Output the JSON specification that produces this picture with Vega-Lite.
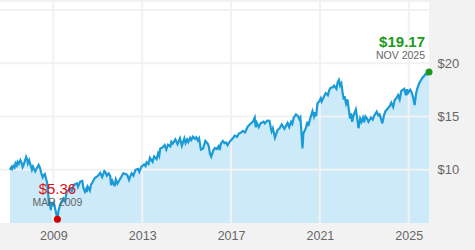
{
  "$schema": "https://vega.github.io/schema/vega-lite/v6.json",
  "width": 429,
  "height": 221,
  "autosize": {"type": "none"},
  "padding": {"left": 0, "top": 2, "right": 46, "bottom": 27},
  "background": "#f2f2f2",
  "config": {
    "view": {"fill": "white", "stroke": null},
    "font": "Liberation Sans",
    "axis": {"labelFont": "Liberation Sans", "labelColor": "#666666", "labelFontSize": 12}
  },
  "datasets": {
    "prices": [
      {"date": "2007-01-20", "value": 9.98},
      {"date": "2007-02-10", "value": 10.25},
      {"date": "2007-02-25", "value": 10.1},
      {"date": "2007-03-15", "value": 10.35},
      {"date": "2007-04-05", "value": 10.2},
      {"date": "2007-04-20", "value": 10.6},
      {"date": "2007-05-10", "value": 10.4},
      {"date": "2007-05-25", "value": 10.75},
      {"date": "2007-06-15", "value": 10.55},
      {"date": "2007-07-10", "value": 10.9},
      {"date": "2007-08-01", "value": 10.6},
      {"date": "2007-08-15", "value": 10.25},
      {"date": "2007-09-01", "value": 10.45},
      {"date": "2007-09-25", "value": 10.9},
      {"date": "2007-10-12", "value": 11.2},
      {"date": "2007-10-28", "value": 10.95},
      {"date": "2007-11-10", "value": 10.6},
      {"date": "2007-12-01", "value": 10.9},
      {"date": "2007-12-20", "value": 10.5},
      {"date": "2008-01-15", "value": 10.0},
      {"date": "2008-02-01", "value": 10.3},
      {"date": "2008-02-20", "value": 10.05},
      {"date": "2008-03-10", "value": 9.85},
      {"date": "2008-04-10", "value": 10.2},
      {"date": "2008-05-05", "value": 10.45},
      {"date": "2008-05-25", "value": 10.2},
      {"date": "2008-06-18", "value": 9.67},
      {"date": "2008-07-10", "value": 9.3},
      {"date": "2008-07-25", "value": 9.5},
      {"date": "2008-08-15", "value": 9.6},
      {"date": "2008-09-01", "value": 9.2},
      {"date": "2008-09-20", "value": 8.8},
      {"date": "2008-10-05", "value": 7.94},
      {"date": "2008-10-25", "value": 6.6},
      {"date": "2008-11-05", "value": 7.0},
      {"date": "2008-11-20", "value": 6.2},
      {"date": "2008-12-05", "value": 6.8},
      {"date": "2008-12-25", "value": 6.7},
      {"date": "2009-01-10", "value": 6.9},
      {"date": "2009-02-05", "value": 6.2},
      {"date": "2009-02-25", "value": 5.7},
      {"date": "2009-03-09", "value": 5.36},
      {"date": "2009-03-25", "value": 6.1},
      {"date": "2009-04-22", "value": 6.7},
      {"date": "2009-05-15", "value": 7.0},
      {"date": "2009-06-15", "value": 7.3},
      {"date": "2009-07-10", "value": 7.05},
      {"date": "2009-08-10", "value": 7.94},
      {"date": "2009-09-10", "value": 8.1},
      {"date": "2009-10-05", "value": 8.26},
      {"date": "2009-11-01", "value": 8.0},
      {"date": "2009-12-01", "value": 8.57},
      {"date": "2010-01-22", "value": 8.73},
      {"date": "2010-02-10", "value": 8.4},
      {"date": "2010-03-18", "value": 8.88},
      {"date": "2010-04-23", "value": 8.95},
      {"date": "2010-05-10", "value": 8.3},
      {"date": "2010-06-05", "value": 7.94},
      {"date": "2010-06-25", "value": 8.2},
      {"date": "2010-07-05", "value": 7.9},
      {"date": "2010-07-22", "value": 8.4},
      {"date": "2010-08-25", "value": 8.05},
      {"date": "2010-09-12", "value": 8.6},
      {"date": "2010-10-15", "value": 8.9},
      {"date": "2010-11-15", "value": 9.25},
      {"date": "2010-12-20", "value": 9.35},
      {"date": "2011-01-15", "value": 9.5},
      {"date": "2011-02-10", "value": 9.7},
      {"date": "2011-03-15", "value": 9.3},
      {"date": "2011-04-20", "value": 9.88},
      {"date": "2011-05-10", "value": 9.75},
      {"date": "2011-05-30", "value": 9.45},
      {"date": "2011-07-01", "value": 9.65},
      {"date": "2011-07-25", "value": 9.4},
      {"date": "2011-08-10", "value": 8.55},
      {"date": "2011-08-30", "value": 8.95},
      {"date": "2011-09-20", "value": 8.7},
      {"date": "2011-10-05", "value": 8.45},
      {"date": "2011-10-25", "value": 9.1},
      {"date": "2011-11-20", "value": 8.7},
      {"date": "2011-12-15", "value": 8.95},
      {"date": "2012-01-20", "value": 9.3},
      {"date": "2012-02-25", "value": 9.67},
      {"date": "2012-04-05", "value": 9.6},
      {"date": "2012-05-01", "value": 9.5},
      {"date": "2012-05-30", "value": 9.05},
      {"date": "2012-06-20", "value": 9.4},
      {"date": "2012-07-12", "value": 9.67},
      {"date": "2012-08-10", "value": 9.45},
      {"date": "2012-09-12", "value": 9.98},
      {"date": "2012-10-26", "value": 10.07},
      {"date": "2012-11-15", "value": 9.8},
      {"date": "2012-12-20", "value": 10.3},
      {"date": "2013-02-01", "value": 10.5},
      {"date": "2013-02-25", "value": 10.35},
      {"date": "2013-03-15", "value": 10.7},
      {"date": "2013-04-15", "value": 10.55},
      {"date": "2013-05-08", "value": 11.13},
      {"date": "2013-06-20", "value": 10.75},
      {"date": "2013-07-15", "value": 11.25},
      {"date": "2013-08-25", "value": 11.0},
      {"date": "2013-09-20", "value": 11.54},
      {"date": "2013-10-08", "value": 11.3},
      {"date": "2013-10-25", "value": 12.0},
      {"date": "2013-12-01", "value": 12.1},
      {"date": "2014-01-05", "value": 12.32},
      {"date": "2014-02-01", "value": 11.9},
      {"date": "2014-03-01", "value": 12.35},
      {"date": "2014-04-10", "value": 12.2},
      {"date": "2014-04-25", "value": 12.63},
      {"date": "2014-05-20", "value": 12.45},
      {"date": "2014-07-01", "value": 12.85},
      {"date": "2014-08-05", "value": 12.4},
      {"date": "2014-09-15", "value": 12.95},
      {"date": "2014-10-15", "value": 12.25},
      {"date": "2014-11-25", "value": 12.95},
      {"date": "2014-12-15", "value": 12.5},
      {"date": "2015-01-10", "value": 12.85},
      {"date": "2015-01-30", "value": 12.6},
      {"date": "2015-03-01", "value": 13.0},
      {"date": "2015-03-20", "value": 12.8},
      {"date": "2015-04-15", "value": 13.1},
      {"date": "2015-05-20", "value": 12.9},
      {"date": "2015-06-10", "value": 13.05},
      {"date": "2015-07-05", "value": 12.75},
      {"date": "2015-07-25", "value": 12.95},
      {"date": "2015-08-25", "value": 11.9},
      {"date": "2015-09-30", "value": 12.0},
      {"date": "2015-11-05", "value": 12.7},
      {"date": "2015-12-15", "value": 12.45},
      {"date": "2016-01-01", "value": 12.2},
      {"date": "2016-01-20", "value": 11.5},
      {"date": "2016-02-10", "value": 11.22},
      {"date": "2016-03-15", "value": 11.8},
      {"date": "2016-04-10", "value": 12.05},
      {"date": "2016-05-10", "value": 11.95},
      {"date": "2016-06-10", "value": 12.2},
      {"date": "2016-06-28", "value": 11.85},
      {"date": "2016-07-20", "value": 12.48},
      {"date": "2016-08-20", "value": 12.7},
      {"date": "2016-09-15", "value": 12.5},
      {"date": "2016-10-12", "value": 12.55},
      {"date": "2016-11-05", "value": 12.3},
      {"date": "2016-12-05", "value": 12.6},
      {"date": "2017-01-30", "value": 12.95},
      {"date": "2017-03-01", "value": 13.2},
      {"date": "2017-04-10", "value": 13.1},
      {"date": "2017-05-10", "value": 13.4},
      {"date": "2017-06-15", "value": 13.5},
      {"date": "2017-07-12", "value": 13.64},
      {"date": "2017-08-20", "value": 13.5},
      {"date": "2017-10-01", "value": 14.04},
      {"date": "2017-11-25", "value": 14.36},
      {"date": "2017-12-25", "value": 14.5},
      {"date": "2018-01-26", "value": 14.89},
      {"date": "2018-02-10", "value": 14.0},
      {"date": "2018-03-01", "value": 14.4},
      {"date": "2018-04-01", "value": 14.0},
      {"date": "2018-05-01", "value": 14.36},
      {"date": "2018-06-20", "value": 14.51},
      {"date": "2018-07-10", "value": 14.35},
      {"date": "2018-08-20", "value": 14.62},
      {"date": "2018-09-25", "value": 14.6},
      {"date": "2018-10-15", "value": 14.0},
      {"date": "2018-10-30", "value": 13.6},
      {"date": "2018-11-20", "value": 13.9},
      {"date": "2018-12-24", "value": 13.01},
      {"date": "2019-02-05", "value": 13.73},
      {"date": "2019-03-10", "value": 13.9},
      {"date": "2019-04-15", "value": 14.25},
      {"date": "2019-05-28", "value": 13.85},
      {"date": "2019-07-20", "value": 14.4},
      {"date": "2019-08-15", "value": 14.0},
      {"date": "2019-09-15", "value": 14.5},
      {"date": "2019-10-05", "value": 14.3},
      {"date": "2019-10-28", "value": 14.89},
      {"date": "2019-12-05", "value": 15.2},
      {"date": "2020-01-10", "value": 15.0},
      {"date": "2020-01-30", "value": 14.75},
      {"date": "2020-02-15", "value": 14.9},
      {"date": "2020-02-28", "value": 13.9},
      {"date": "2020-03-20", "value": 12.0},
      {"date": "2020-04-05", "value": 13.42},
      {"date": "2020-05-15", "value": 13.9},
      {"date": "2020-06-08", "value": 14.5},
      {"date": "2020-06-25", "value": 14.1},
      {"date": "2020-07-20", "value": 14.7},
      {"date": "2020-09-01", "value": 15.5},
      {"date": "2020-09-25", "value": 15.0},
      {"date": "2020-10-12", "value": 15.4},
      {"date": "2020-10-30", "value": 15.0},
      {"date": "2020-11-22", "value": 16.24},
      {"date": "2020-12-20", "value": 16.4},
      {"date": "2021-01-15", "value": 16.71},
      {"date": "2021-01-30", "value": 16.4},
      {"date": "2021-03-10", "value": 16.9},
      {"date": "2021-04-10", "value": 17.2},
      {"date": "2021-05-12", "value": 17.0},
      {"date": "2021-06-05", "value": 17.5},
      {"date": "2021-06-28", "value": 17.7},
      {"date": "2021-08-01", "value": 17.75},
      {"date": "2021-08-22", "value": 17.9},
      {"date": "2021-09-30", "value": 17.6},
      {"date": "2021-10-20", "value": 18.2},
      {"date": "2021-11-10", "value": 18.43},
      {"date": "2021-11-30", "value": 17.9},
      {"date": "2021-12-20", "value": 18.1},
      {"date": "2022-01-10", "value": 17.2},
      {"date": "2022-01-28", "value": 16.6},
      {"date": "2022-02-10", "value": 16.9},
      {"date": "2022-03-08", "value": 16.2},
      {"date": "2022-03-30", "value": 16.6},
      {"date": "2022-04-25", "value": 15.5},
      {"date": "2022-05-12", "value": 14.8},
      {"date": "2022-05-30", "value": 15.3},
      {"date": "2022-06-15", "value": 14.5},
      {"date": "2022-07-10", "value": 15.1},
      {"date": "2022-08-15", "value": 15.65},
      {"date": "2022-09-05", "value": 14.9},
      {"date": "2022-09-28", "value": 13.9},
      {"date": "2022-10-25", "value": 14.8},
      {"date": "2022-11-15", "value": 14.5},
      {"date": "2022-12-10", "value": 14.9},
      {"date": "2022-12-28", "value": 14.45},
      {"date": "2023-01-20", "value": 15.0},
      {"date": "2023-02-10", "value": 14.85},
      {"date": "2023-03-10", "value": 14.5},
      {"date": "2023-04-20", "value": 14.9},
      {"date": "2023-05-20", "value": 14.7},
      {"date": "2023-06-15", "value": 15.1},
      {"date": "2023-07-25", "value": 15.45},
      {"date": "2023-08-20", "value": 15.1},
      {"date": "2023-09-10", "value": 15.2},
      {"date": "2023-10-25", "value": 14.36},
      {"date": "2023-11-20", "value": 15.1},
      {"date": "2023-12-15", "value": 15.5},
      {"date": "2024-01-25", "value": 15.77},
      {"date": "2024-02-20", "value": 15.95},
      {"date": "2024-03-20", "value": 16.3},
      {"date": "2024-04-20", "value": 15.9},
      {"date": "2024-05-15", "value": 16.55},
      {"date": "2024-06-10", "value": 16.7},
      {"date": "2024-07-10", "value": 17.0},
      {"date": "2024-08-05", "value": 16.6},
      {"date": "2024-09-01", "value": 17.4},
      {"date": "2024-10-20", "value": 17.6},
      {"date": "2024-11-15", "value": 17.0},
      {"date": "2024-12-05", "value": 17.55},
      {"date": "2024-12-20", "value": 17.2},
      {"date": "2025-01-25", "value": 17.5},
      {"date": "2025-02-15", "value": 17.3},
      {"date": "2025-03-10", "value": 16.9},
      {"date": "2025-04-08", "value": 16.08},
      {"date": "2025-04-30", "value": 17.1},
      {"date": "2025-05-20", "value": 17.6},
      {"date": "2025-06-20", "value": 18.1},
      {"date": "2025-07-20", "value": 18.4},
      {"date": "2025-08-15", "value": 18.64},
      {"date": "2025-09-10", "value": 18.8},
      {"date": "2025-10-05", "value": 19.0},
      {"date": "2025-10-25", "value": 18.95},
      {"date": "2025-11-30", "value": 19.17}
    ],
    "marks": [
      {"date": "2009-03-09", "value": 5.36, "price": "$5.36", "when": "MAR 2009", "kind": "low"},
      {"date": "2025-11-30", "value": 19.17, "price": "$19.17", "when": "NOV 2025", "kind": "last"}
    ],
    "hgrid": [{"v": 10}, {"v": 15}, {"v": 20}, {"v": 25}],
    "vgrid": [{"d": "2009-01-01"}, {"d": "2013-01-01"}, {"d": "2017-01-01"}, {"d": "2021-01-01"}, {"d": "2025-01-01"}]
  },
  "layer": [
    {
      "data": {"name": "prices"},
      "mark": {"type": "area", "color": "#cdeaf8", "clip": true},
      "encoding": {
        "x": {"field": "date", "type": "temporal", "scale": {"domain": ["2006-08-08", "2025-11-30"]},
          "axis": {"values": ["2009-01-01", "2013-01-01", "2017-01-01", "2021-01-01", "2025-01-01"], "format": "%Y", "title": null, "grid": false, "ticks": false, "domain": false, "labelPadding": 6, "labelFontSize": 12.5}},
        "y": {"field": "value", "type": "quantitative", "scale": {"domain": [5, 25.75], "nice": false, "zero": false},
          "axis": {"orient": "right", "values": [10, 15, 20], "labelExpr": "'$' + datum.value", "title": null, "grid": false, "ticks": false, "domain": false, "labelPadding": 8, "labelFontSize": 13}}
      }
    },
    {
      "data": {"name": "hgrid"},
      "mark": {"type": "rule", "color": "#f2f2f2", "strokeWidth": 2},
      "encoding": {"y": {"field": "v", "type": "quantitative"}}
    },
    {
      "data": {"name": "vgrid"},
      "mark": {"type": "rule", "color": "#f2f2f2", "strokeWidth": 2},
      "encoding": {"x": {"field": "d", "type": "temporal"}}
    },
    {
      "data": {"name": "prices"},
      "mark": {"type": "line", "color": "#1a9bd7", "strokeWidth": 2.2, "clip": true},
      "encoding": {
        "x": {"field": "date", "type": "temporal"},
        "y": {"field": "value", "type": "quantitative"}
      }
    },
    {
      "data": {"name": "marks"},
      "mark": {"type": "point", "filled": true, "opacity": 1, "size": 50},
      "encoding": {
        "x": {"field": "date", "type": "temporal"},
        "y": {"field": "value", "type": "quantitative"},
        "color": {"field": "kind", "type": "nominal", "scale": {"domain": ["low", "last"], "range": ["#d40000", "#1a9a1a"]}, "legend": null}
      }
    },
    {
      "data": {"name": "marks"},
      "transform": [{"filter": "datum.kind == 'low'"}],
      "mark": {"type": "text", "color": "#dd1111", "fontSize": 15, "align": "center", "baseline": "middle", "dy": -30},
      "encoding": {
        "x": {"field": "date", "type": "temporal"},
        "y": {"field": "value", "type": "quantitative"},
        "text": {"field": "price"}
      }
    },
    {
      "data": {"name": "marks"},
      "transform": [{"filter": "datum.kind == 'low'"}],
      "mark": {"type": "text", "color": "#666666", "fontSize": 10.5, "align": "center", "baseline": "middle", "dy": -16.5},
      "encoding": {
        "x": {"field": "date", "type": "temporal"},
        "y": {"field": "value", "type": "quantitative"},
        "text": {"field": "when"}
      }
    },
    {
      "data": {"name": "marks"},
      "transform": [{"filter": "datum.kind == 'last'"}],
      "mark": {"type": "text", "color": "#1a9a1a", "fontSize": 15, "fontWeight": "bold", "align": "right", "baseline": "middle", "dx": -4, "dy": -30},
      "encoding": {
        "x": {"field": "date", "type": "temporal"},
        "y": {"field": "value", "type": "quantitative"},
        "text": {"field": "price"}
      }
    },
    {
      "data": {"name": "marks"},
      "transform": [{"filter": "datum.kind == 'last'"}],
      "mark": {"type": "text", "color": "#666666", "fontSize": 10.5, "align": "right", "baseline": "middle", "dx": -4, "dy": -16.5},
      "encoding": {
        "x": {"field": "date", "type": "temporal"},
        "y": {"field": "value", "type": "quantitative"},
        "text": {"field": "when"}
      }
    }
  ]
}
